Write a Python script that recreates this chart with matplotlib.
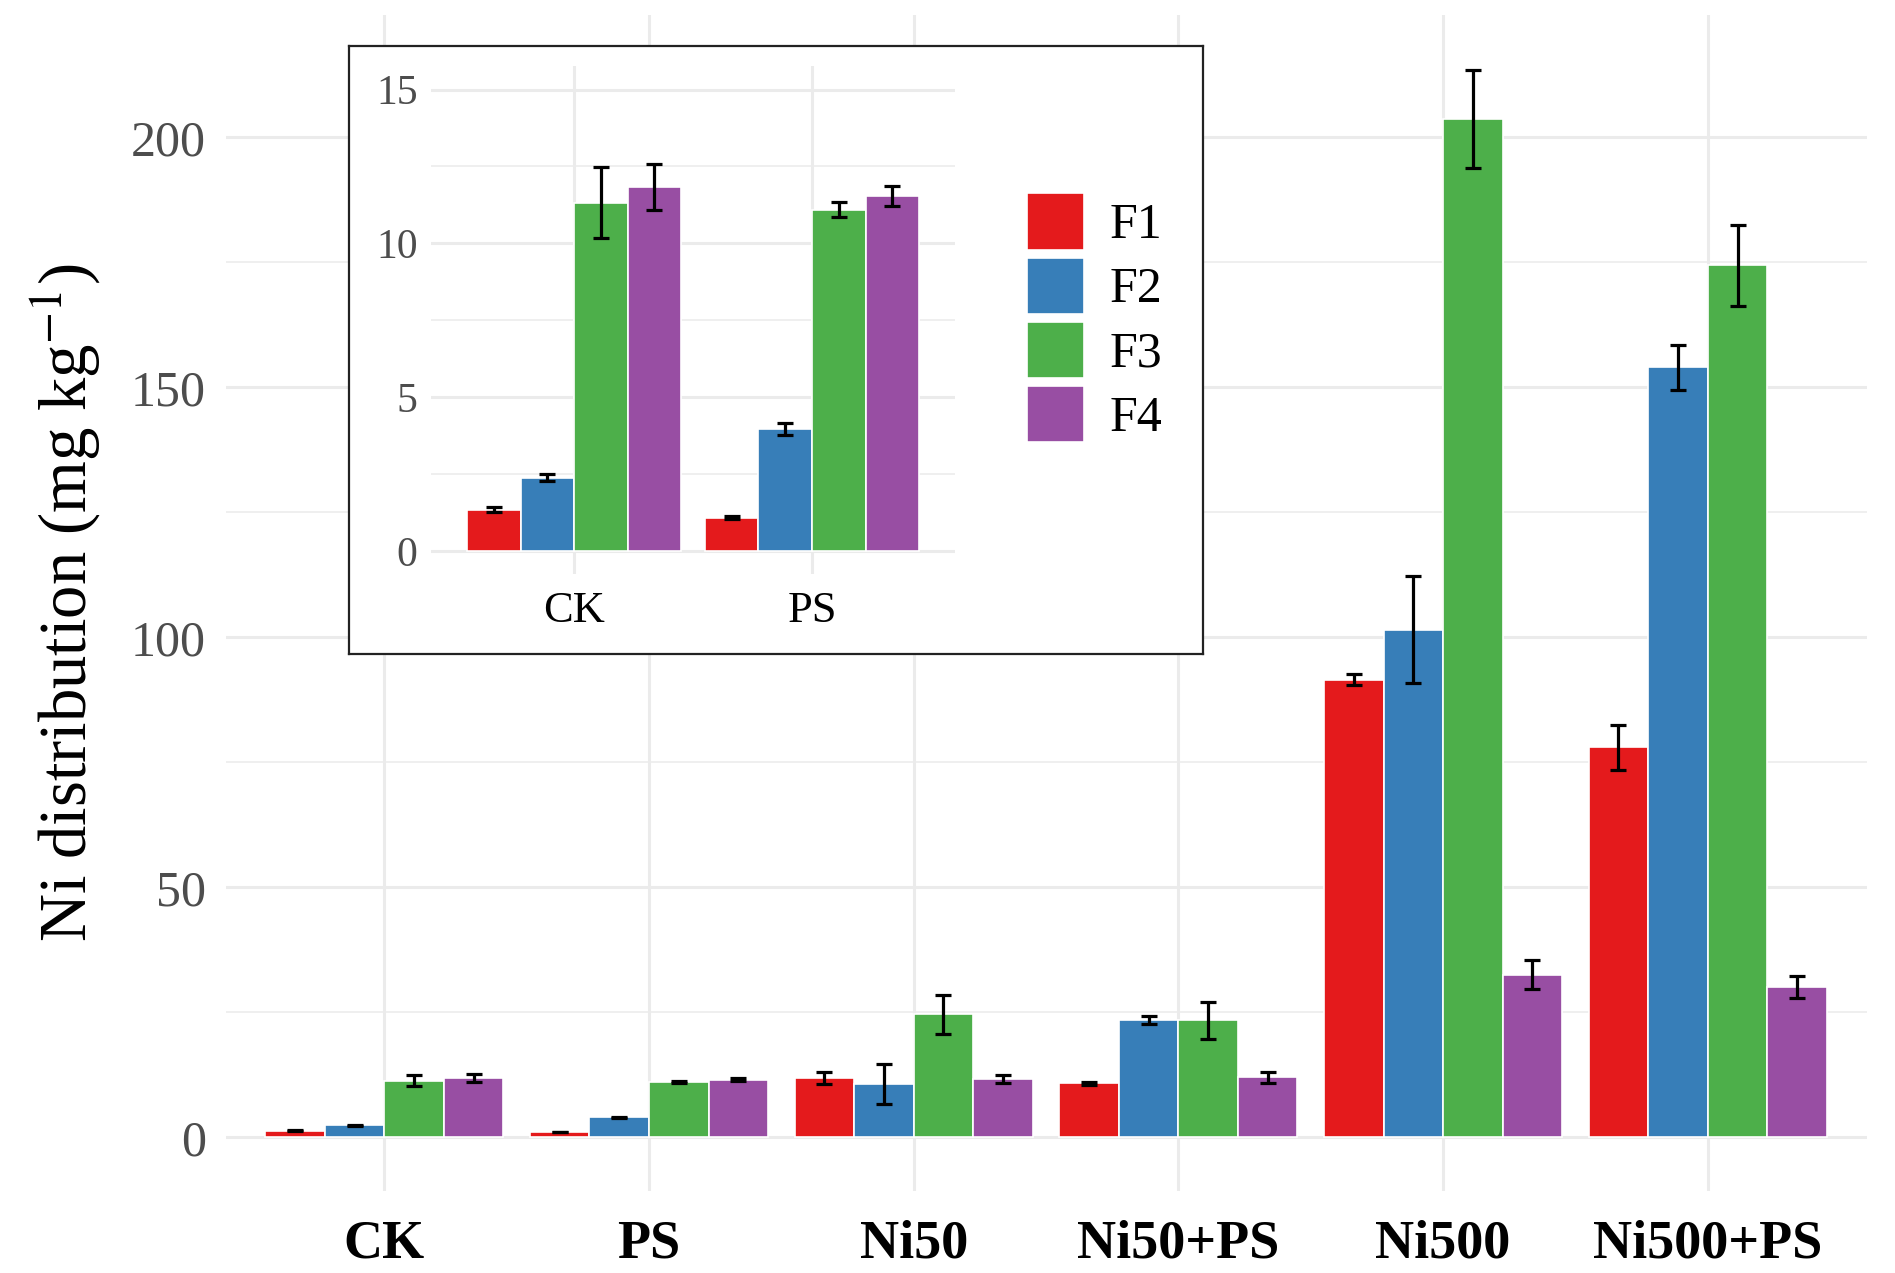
import matplotlib
matplotlib.use("Agg")
import numpy as np
import matplotlib.pyplot as plt
from matplotlib.patches import Patch
from matplotlib.ticker import MultipleLocator

plt.rcParams['font.family'] = ['Liberation Serif', 'DejaVu Serif']
plt.rcParams['mathtext.fontset'] = 'stix'

# data
treatments = ['CK', 'PS', 'Ni50', 'Ni50+PS', 'Ni500', 'Ni500+PS']
fractions = ['F1', 'F2', 'F3', 'F4']
colors = ['#E41A1C', '#377EB8', '#4DAF4A', '#984EA3']

f1_mean = [1.34, 1.09, 11.8, 10.8, 91.5, 78.0]
f1_err = [0.08, 0.05, 1.2, 0.35, 1.1, 4.5]
f2_mean = [2.39, 3.96, 10.6, 23.4, 101.5, 154.0]
f2_err = [0.10, 0.19, 4.0, 0.8, 10.7, 4.5]
f3_mean = [11.32, 11.09, 24.6, 23.4, 203.7, 174.4]
f3_err = [1.16, 0.24, 3.9, 3.7, 9.8, 8.1]
f4_mean = [11.83, 11.55, 11.6, 12.0, 32.5, 30.1]
f4_err = [0.74, 0.33, 0.8, 1.1, 2.9, 2.2]

inset_treatments = ['CK', 'PS']

means = [f1_mean, f2_mean, f3_mean, f4_mean]
errs = [f1_err, f2_err, f3_err, f4_err]

grid_col = '#EBEBEB'
tick_col = '#4D4D4D'


def draw_bars(ax, n_groups):
    x = np.arange(1, n_groups + 1)
    w = 0.9 / 4
    for i in range(4):
        xi = x - 0.45 + w * (i + 0.5)
        ax.bar(xi, means[i][:n_groups], width=w, color=colors[i],
               edgecolor='white', linewidth=1.2, zorder=3)
        ax.errorbar(xi, means[i][:n_groups], yerr=errs[i][:n_groups], fmt='none',
                    ecolor='black', elinewidth=2.3, capsize=6, capthick=2.3, zorder=4)
    return x


def style_axes(ax):
    for s in ax.spines.values():
        s.set_visible(False)
    ax.grid(True, which='major', color=grid_col, linewidth=2.2, zorder=0)
    ax.grid(True, which='minor', axis='y', color=grid_col, linewidth=1.1, zorder=0)
    ax.set_axisbelow(True)
    ax.tick_params(which='both', length=0)


fig = plt.figure(figsize=(18.95, 12.73), dpi=100)

# main plot
ax = fig.add_axes([0.119, 0.0646, 0.866, 0.924])
x = draw_bars(ax, len(treatments))
ax.set_xlim(0.4, 6.6)
ax.set_ylim(-10.7, 224.6)
ax.set_xticks(x)
ax.set_xticklabels(treatments, fontsize=39, fontweight='bold', color='black')
ax.yaxis.set_major_locator(MultipleLocator(50))
ax.yaxis.set_minor_locator(MultipleLocator(25))
ax.tick_params(axis='y', labelsize=36, labelcolor=tick_col, pad=14)
ax.tick_params(axis='x', pad=21)
ax.set_ylabel(r'Ni distribution (mg kg$^{-1}$)', fontsize=48, labelpad=20)
style_axes(ax)

# inset box
box = fig.add_axes([0.1843, 0.4862, 0.4503, 0.4777])
box.set_xticks([])
box.set_yticks([])
box.set_facecolor('white')
for s in box.spines.values():
    s.set_linewidth(1.6)
    s.set_color('#222222')

# inset plot
ax_in = fig.add_axes([0.2277, 0.549, 0.2761, 0.3988])
ax_in.set_facecolor('none')
xi = draw_bars(ax_in, len(inset_treatments))
ax_in.set_xlim(0.4, 2.6)
ax_in.set_ylim(-0.75, 15.75)
ax_in.set_xticks(xi)
ax_in.set_xticklabels(inset_treatments, fontsize=32, color='black')
ax_in.yaxis.set_major_locator(MultipleLocator(5))
ax_in.yaxis.set_minor_locator(MultipleLocator(2.5))
ax_in.tick_params(axis='y', labelsize=30, labelcolor=tick_col, pad=10)
ax_in.tick_params(axis='x', pad=12)
style_axes(ax_in)

handles = [Patch(facecolor=c, edgecolor='white', linewidth=1.2) for c in colors]
fig.legend(handles, fractions, loc='upper left', bbox_to_anchor=(0.542, 0.848),
           frameon=False, fontsize=36, handlelength=1.14, handleheight=1.35,
           handletextpad=0.5, labelspacing=0.16, borderpad=0, borderaxespad=0)

fig.savefig('out.png', dpi=100)
